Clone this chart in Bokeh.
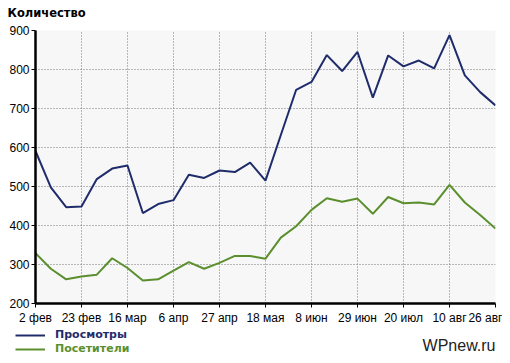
from bokeh.plotting import figure
from bokeh.layouts import column, row
from bokeh.models import Range1d, FixedTicker, Legend, LegendItem, Label
from bokeh.embed import file_html
from bokeh.resources import INLINE

weeks = list(range(31))
views = [591, 498, 447, 449, 519, 546, 554, 432, 455, 465, 530, 522, 541, 537, 561, 515,
         632, 748, 768, 837, 796, 845, 728, 836, 808, 823, 803, 888, 785, 742, 708]
visitors = [329, 289, 262, 269, 274, 316, 291, 259, 262, 284, 306, 289, 304, 322, 322, 315,
            369, 398, 440, 470, 461, 469, 430, 473, 457, 459, 454, 504, 459, 427, 392]
tick_pos = [0, 3, 6, 9, 12, 15, 18, 21, 24, 27, 30]
tick_labels = ["2 фев", "23 фев", "16 мар", "6 апр", "27 апр", "18 мая",
               "8 июн", "29 июн", "20 июл", "10 авг", "26 авг"]
y_ticks = [200, 300, 400, 500, 600, 700, 800, 900]

NAVY = "#1f2c6c"
GREEN = "#5b8f2e"
FONT = "Liberation Sans"


def blank(h):
    b = figure(width=502, height=h, output_backend="svg", toolbar_location=None,
               x_axis_type=None, y_axis_type=None, x_range=Range1d(0, 1),
               y_range=Range1d(0, 1), min_border=0)
    b.outline_line_color = None
    b.background_fill_color = "white"
    b.border_fill_color = "white"
    return b


# header with title
h = blank(22)
h.add_layout(Label(x=7, y=10, x_units="screen", y_units="screen", text="Количество",
                   text_font="DejaVu Sans", text_font_style="bold", text_font_size="11.5px",
                   text_color="black", text_baseline="middle", text_align="left"))

# main chart
p = figure(width=502, height=305, output_backend="svg", toolbar_location=None, title=None,
           x_range=Range1d(0, 30), y_range=Range1d(200, 900),
           min_border_left=35, min_border_right=7, min_border_top=8, min_border_bottom=21)
p.background_fill_color = "#f7f7f7"
p.border_fill_color = "white"
p.outline_line_color = None

for ax in (p.xaxis[0], p.yaxis[0]):
    ax.axis_line_width = 2.5
    ax.axis_line_color = "black"
    ax.major_tick_out = 4
    ax.major_tick_in = 0
    ax.major_tick_line_color = "black"
    ax.minor_tick_line_color = None
    ax.major_label_text_font = FONT
    ax.major_label_text_font_size = "12px"
    ax.major_label_text_color = "black"

p.xaxis.ticker = FixedTicker(ticks=tick_pos)
p.xaxis.major_label_overrides = {t: l for t, l in zip(tick_pos, tick_labels)}
p.xaxis.major_label_standoff = 3
p.yaxis.ticker = FixedTicker(ticks=y_ticks)
p.yaxis.major_label_standoff = 2

for g in (p.xgrid[0], p.ygrid[0]):
    g.grid_line_color = "#777777"
    g.grid_line_dash = "1 2"
    g.grid_line_width = 1

p.line(weeks, views, line_color=NAVY, line_width=2)
p.line(weeks, visitors, line_color=GREEN, line_width=2)

# footer: legend + watermark
f = blank(28)
lr1 = f.line([5, 6], [5, 5], line_color=NAVY, line_width=2)
lr2 = f.line([5, 6], [5, 5], line_color=GREEN, line_width=2)

leg1 = Legend(items=[LegendItem(label="Просмотры", renderers=[lr1])], location=(15, 14))
leg2 = Legend(items=[LegendItem(label="Посетители", renderers=[lr2])], location=(15, 0))
for lg, col in ((leg1, NAVY), (leg2, GREEN)):
    lg.label_text_color = col
    lg.label_text_font = "DejaVu Sans"
    lg.label_text_font_style = "bold"
    lg.label_text_font_size = "11px"
    lg.glyph_width = 30
    lg.glyph_height = 12
    lg.label_height = 12
    lg.label_standoff = 10
    lg.padding = 0
    lg.margin = 0
    lg.spacing = 0
    lg.border_line_alpha = 0
    lg.background_fill_alpha = 0
    f.add_layout(lg, "center")

f.add_layout(Label(x=495, y=10, x_units="screen", y_units="screen", text="WPnew.ru",
                   text_font=FONT, text_font_size="16px", text_color="#222222",
                   text_baseline="middle", text_align="right"))

layout = column(row(h), p, row(f), spacing=0)
open("out.html", "w").write(file_html(layout, INLINE))
